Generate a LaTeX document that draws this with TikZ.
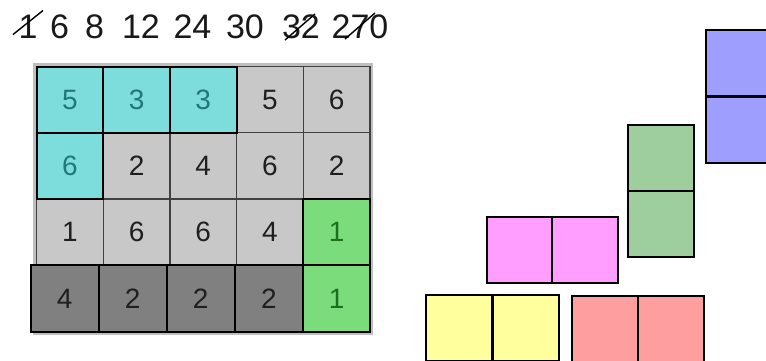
\documentclass[tikz,border=0pt]{standalone}
\usepackage{fontspec}
\setmainfont{Liberation Sans}
\definecolor{lgray}{HTML}{C8C8C8}
\definecolor{dgray}{HTML}{808080}
\definecolor{cyanf}{HTML}{7DDCDC}
\definecolor{tealt}{HTML}{207878}
\definecolor{greenf}{HTML}{7ADC7A}
\definecolor{greent}{HTML}{1E6E1E}
\definecolor{bluef}{HTML}{9E9EFF}
\definecolor{sageg}{HTML}{9ECE9E}
\definecolor{magf}{HTML}{FF9EFF}
\definecolor{yelf}{HTML}{FFFF9E}
\definecolor{redf}{HTML}{FF9E9E}
\begin{document}
\begin{tikzpicture}[x=1pt,y=-1pt,
  gcell/.style={draw=black!75,line width=1.3pt,fill=lgray,minimum width=66.7pt,minimum height=66.3pt,inner sep=0pt,outer sep=0pt,font=\fontsize{28}{28}\selectfont,text=black!88},
  ccell/.style={gcell,draw=black,line width=2pt,fill=cyanf,text=tealt},
  grcell/.style={gcell,draw=black,line width=2pt,fill=greenf,text=greent},
  dcell/.style={gcell,draw=black,line width=2pt,fill=dgray,minimum width=68pt},
  piece/.style={draw=black,line width=2pt,minimum width=66pt,minimum height=66pt,inner sep=0pt,outer sep=0pt},
  num/.style={anchor=base,inner sep=0pt,font=\fontsize{34}{34}\selectfont,text=black!90},
  strike/.style={draw=black,line width=1.4pt}]
\useasboundingbox (0,0) rectangle (766,360);
% background frame of grid
\fill[black!25] (33,63) rectangle (373,335);
% top numbers
\node[num] (n1) at (28,38.5) {1};
\node[num] (n2) at (59.5,38.5) {6};
\node[num] (n3) at (94.5,38.5) {8};
\node[num] (n4) at (141,38.5) {12};
\node[num] (n5) at (192.5,38.5) {24};
\node[num] (n6) at (245,38.5) {30};
\node[num] (n7) at (301,38.5) {32};
\node[num] (n8) at (360,38.5) {270};
\draw[strike] (n1.base) ++(-15,-4) -- ++(30,-24);
\draw[strike] (n7.base) ++(-16,1.5) -- ++(30,-26);
\draw[strike] (n8.base) ++(-15,0.5) -- ++(30,-26);
% grid (gray cells)
\foreach \r/\vals in {1/{5,3,3,5,6},2/{6,2,4,6,2},3/{1,6,6,4,1}}{
  \foreach \v [count=\c] in \vals {
    \node[gcell] (c-\r-\c) at ({36.5+66.7*(\c-0.5)},{66.5+66.3*(\r-0.5)}) {\v};
  }
}
% cyan cells
\node[ccell] (k1) at (c-1-1) {5};
\node[ccell] (k2) at (c-1-2) {3};
\node[ccell] (k3) at (c-1-3) {3};
\node[ccell] (k4) at (c-2-1) {6};
% dark row
\foreach \v [count=\c] in {4,2,2,2}{
  \node[dcell] (d-\c) at ({30.5+68.1*(\c-0.5)},{66.5+66.3*3.5}) {\v};
}
% green cells
\node[grcell] (g1) at (c-3-5) {1};
\node[grcell] (g2) at ({36.5+66.7*4.5},{66.5+66.3*3.5}) {1};
% right pieces
\node[piece,fill=bluef] (b1) at (739,63.3) {};
\node[piece,fill=bluef] (b2) at (739,129.7) {};
\node[piece,fill=sageg] (s1) at (661,158) {};
\node[piece,fill=sageg] (s2) at (661,223.7) {};
\node[piece,fill=magf] (m1) at (519.7,250) {};
\node[piece,fill=magf] (m2) at (585.3,250) {};
\node[piece,fill=yelf] (y1) at (459.2,328) {};
\node[piece,fill=yelf] (y2) at (525.5,328) {};
\node[piece,fill=redf] (r1) at (604.7,329) {};
\node[piece,fill=redf] (r2) at (670.5,329) {};
\end{tikzpicture}
\end{document}
